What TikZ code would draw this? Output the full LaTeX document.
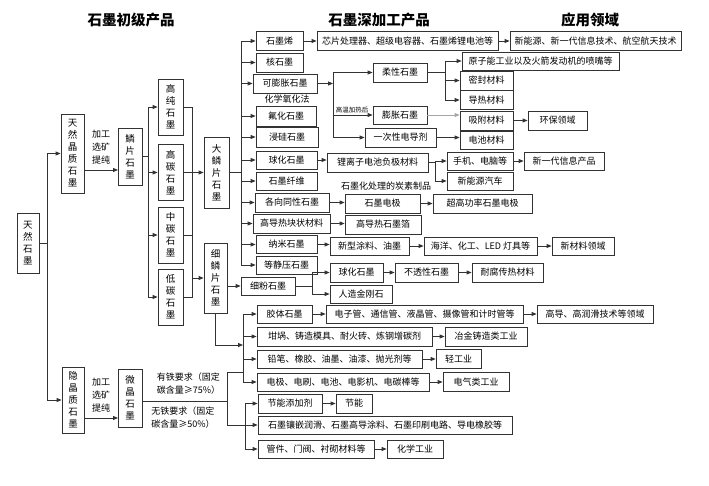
\documentclass[tikz,border=0pt]{standalone}
\usepackage{fontspec}
\setmainfont{Noto Sans CJK SC}
\usetikzlibrary{arrows.meta}

\tikzset{
  box/.style={draw=black!80, line width=0.8pt, inner sep=1pt, minimum height=19pt,
    font=\fontsize{9}{11}\selectfont},
  vbox/.style={box, align=center, font=\fontsize{9.5}{12}\selectfont},
  conn/.style={draw=black!80, line width=0.8pt},
  arr/.style={-{Triangle[length=5pt,width=4pt]}},
  title/.style={font=\fontsize{14.5}{16}\selectfont\bfseries},
  note/.style={font=\fontsize{9}{13}\selectfont, align=left},
}

\begin{document}
\begin{tikzpicture}[x=1pt, y=-1pt]
    \useasboundingbox (0,0) rectangle (709,486);

    % titles
    \node[title] (t1) at (131,20) {石墨初级产品};
    \node[title] (t2) at (379,20) {石墨深加工产品};
    \node[title] (t3) at (590,20) {应用领域};

    % primary products
    \node[vbox, minimum width=22, minimum height=60] (tr) at (28,243) {天\\然\\石\\墨};
    \node[vbox, minimum width=23, minimum height=79] (tjz) at (72.5,153.5) {天\\然\\晶\\质\\石\\墨};
    \node[vbox, minimum width=22, minimum height=66] (yjz) at (73,400) {隐\\晶\\质\\石\\墨};
    \node[vbox, minimum width=24, minimum height=57] (lp) at (130,156.5) {鳞\\片\\石\\墨};
    \node[vbox, minimum width=24, minimum height=58] (wj) at (130,398) {微\\晶\\石\\墨};
    \node[vbox, minimum width=25, minimum height=56] (gc) at (170.5,107) {高\\纯\\石\\墨};
    \node[vbox, minimum width=25, minimum height=56] (gt) at (170.5,172.5) {高\\碳\\石\\墨};
    \node[vbox, minimum width=25, minimum height=56] (zt) at (170.5,235) {中\\碳\\石\\墨};
    \node[vbox, minimum width=25, minimum height=56] (dt) at (170.5,297) {低\\碳\\石\\墨};
    \node[vbox, minimum width=25, minimum height=71] (dlp) at (216.5,172.5) {大\\鳞\\片\\石\\墨};
    \node[vbox, minimum width=23, minimum height=70] (xlp) at (215.5,278) {细\\鳞\\片\\石\\墨};

    \coordinate (trj) at (47,243);
    \coordinate (lpin) at (118,170);
    \coordinate (wjin) at (118,418);
    \coordinate (lpj) at (148,156.5);
    \coordinate (mj) at (192,172.5);

    \node[note, align=center, anchor=south] (jg1) at (101,168) {加工\\选矿\\提纯};
    \node[note, align=center, anchor=south] (jg2) at (101,416) {加工\\选矿\\提纯};

    \draw[conn] (tr.east) -- (trj);
    \draw[conn,arr] (trj) |- (tjz.west);
    \draw[conn,arr] (trj) |- (yjz.west);
    \draw[conn,arr] (tjz.east |- lpin) -- (lpin);
    \draw[conn,arr] (yjz.east |- wjin) -- (wjin);
    \draw[conn] (lp.east) -- (lpj);
    \foreach \n in {gc,gt,zt,dt}
        \draw[conn,arr] (lpj) |- (\n.west);
    \foreach \n in {gc,gt,zt,dt}
        \draw[conn] (\n.east) -| (mj);
    \draw[conn,arr] (mj) -- (dlp.west);
    \draw[conn,arr] (mj |- xlp.west) -- (xlp.west);

    % deep processing, large flakes
    \node[box, minimum width=47] (sml) at (279.5,41) {石墨烯};
    \node[box, minimum width=47] (hsm) at (279.5,62.5) {核石墨};
    \node[box, minimum width=64] (kpz) at (285,83.5) {可膨胀石墨};
    \node[box, minimum width=60, minimum height=20] (fh) at (286,116) {氟化石墨};
    \node[box, minimum width=62, minimum height=20] (jg) at (287,137) {浸硅石墨};
    \node[box, minimum width=61, minimum height=18] (qh) at (286.5,160) {球化石墨};
    \node[box, minimum width=61, minimum height=18] (xw) at (286.5,181) {石墨纤维};
    \node[box, minimum width=74] (gx) at (292,202.5) {各向同性石墨};
    \node[box, minimum width=77] (gdr) at (291.5,223.5) {高导热块状材料};
    \node[box, minimum width=61, minimum height=18] (nm) at (286.5,244.5) {纳米石墨};
    \node[box, minimum width=61, minimum height=18] (djy) at (286.5,265) {等静压石墨};
    \node[note] (hx) at (287,99) {化学氧化法};

    \coordinate (dlpj) at (241,172.5);
    \draw[conn] (dlp.east) -- (dlpj);
    \foreach \n in {sml,hsm,kpz,fh,jg,qh,xw,gx,gdr,nm,djy}
        \draw[conn,arr] (dlpj) |- (\n.west);

    \node[box, minimum width=181] (xp) at (407.5,41) {芯片处理器、超级电容器、石墨烯锂电池等};
    \node[box, minimum width=171] (xny) at (595.5,41) {新能源、新一代信息技术、航空航天技术};
    \draw[conn,arr] (sml.east) -- (xp.west);
    \draw[conn,arr] (xp.east) -- (xny.west);

    % expandable graphite
    \node[box, minimum width=54] (rx) at (400,72.5) {柔性石墨};
    \node[box, minimum width=54, minimum height=18] (pz) at (400,115) {膨胀石墨};
    \node[box, minimum width=71] (ycx) at (400.5,137.5) {一次性电导剂};
    \node[font=\fontsize{6.5}{7}\selectfont, anchor=south, inner sep=1pt] (gw) at (352,114) {高温加热后};
    \coordinate (kj) at (333,83.5);
    \draw[conn,arr] (kpz.east) -- (kj);
    \foreach \n in {rx,pz,ycx}
        \draw[conn,arr] (kj) |- (\n.west);

    \node[box, minimum width=157, minimum height=18] (yzn) at (540.5,61) {原子能工业以及火箭发动机的喷嘴等};
    \node[box, minimum width=53] (mf) at (486.5,80.5) {密封材料};
    \node[box, minimum width=53] (drc) at (486.5,100) {导热材料};
    \node[box, minimum width=53] (xf) at (486.5,120.5) {吸附材料};
    \node[box, minimum width=53, minimum height=18] (dc) at (486.5,140.5) {电池材料};
    \node[box, minimum width=59] (hb) at (557.5,120.5) {环保领域};
    \coordinate (rj) at (445,72.5);
    \draw[conn] (rx.east) -- (rj);
    \foreach \n in {yzn,mf,drc}
        \draw[conn,arr] (rj) |- (\n.west);
    \draw[conn,arr,draw=black!35] (pz.east) -- (pz.east -| xf.west);
    \draw[conn,arr] (ycx.east) -- (ycx.east -| dc.west);
    \draw[conn,arr] (xf.east) -- (hb.west);

    % spherical graphite
    \node[box, minimum width=101] (lz) at (377.5,162.5) {锂离子电池负极材料};
    \node[box, minimum width=66, minimum height=18] (sj) at (480,161) {手机、电脑等};
    \node[box, minimum width=66, minimum height=18] (xnyqc) at (480,181) {新能源汽车};
    \node[box, minimum width=80, minimum height=18] (xyd) at (564,161) {新一代信息产品};
    \coordinate (lj) at (435,162.5);
    \draw[conn,arr] (qh.east) -- (qh.east -| lz.west);
    \draw[conn] (lz.east) -- (lj);
    \foreach \n in {sj,xnyqc}
        \draw[conn,arr] (lj) |- (\n.west);
    \draw[conn,arr] (sj.east) -- (xyd.west);

    % electrodes, foil, nano
    \node[note] (tsz) at (386,186) {石墨化处理的炭素制品};
    \node[box, minimum width=75] (sdj) at (382.5,203.5) {石墨电极};
    \node[box, minimum width=99] (cgg) at (482.5,203.5) {超高功率石墨电极};
    \node[box, minimum width=76] (gdrb) at (383,224.5) {高导热石墨箔};
    \node[box, minimum width=79, minimum height=18] (xt) at (369.5,246) {新型涂料、油墨};
    \node[box, minimum width=113, minimum height=18] (hy) at (480.5,246) {海洋、化工、LED 灯具等};
    \node[box, minimum width=62, minimum height=18] (xcl) at (583,246) {新材料领域};
    \draw[conn,arr] (gx.east) -- (gx.east -| sdj.west);
    \draw[conn,arr] (sdj.east) -- (cgg.west);
    \draw[conn,arr] (gdr.east) -- (gdr.east -| gdrb.west);
    \draw[conn,arr] (nm.east) -- (nm.east -| xt.west);
    \draw[conn,arr] (xt.east) -- (hy.west);
    \draw[conn,arr] (hy.east) -- (xcl.west);

    % fine flakes
    \node[box, minimum width=54, minimum height=18] (xf2) at (268,286) {细粉石墨};
    \node[box, minimum width=53] (qh2) at (356.5,272.5) {球化石墨};
    \node[box, minimum width=62, minimum height=18] (rz) at (361,294) {人造金刚石};
    \node[box, minimum width=63] (btx) at (426.5,272.5) {不透性石墨};
    \node[box, minimum width=71] (nf) at (507.5,272.5) {耐腐传热材料};
    \coordinate (fj) at (312,286);
    \draw[conn,arr] (xlp.east |- xf2.west) -- (xf2.west);
    \draw[conn] (xf2.east) -- (fj);
    \foreach \n in {qh2,rz}
        \draw[conn,arr] (fj) |- (\n.west);
    \draw[conn,arr] (qh2.east) -- (btx.west);
    \draw[conn,arr] (btx.east) -- (nf.west);

    \node[box, minimum width=55, minimum height=18] (jt) at (284.5,314) {胶体石墨};
    \node[box, minimum width=197, minimum height=18] (dzg) at (424.5,314) {电子管、通信管、液晶管、摄像管和计时管等};
    \node[box, minimum width=116, minimum height=18] (gd) at (595,314) {高导、高润滑技术等领域};
    \node[box, minimum width=175] (gg) at (344.5,336.5) {坩埚、铸造模具、耐火砖、炼钢增碳剂};
    \node[box, minimum width=82] (yj) at (486,336.5) {冶金铸造类工业};
    \node[box, minimum width=165, minimum height=18] (qb) at (339.5,359) {铅笔、橡胶、油墨、油漆、抛光剂等};
    \node[box, minimum width=45] (qgy) at (458.5,359) {轻工业};
    \node[box, minimum width=172, minimum height=18] (dj) at (343,382) {电极、电刷、电池、电影机、电碳棒等};
    \node[box, minimum width=66] (dq) at (476,382) {电气类工业};
    \coordinate (ub) at (243,345);
    \draw[conn,arr] (xlp.south) |- (ub);
    \foreach \n in {jt,gg,qb,dj}
        \draw[conn,arr] (ub) |- (\n.west);
    \draw[conn,arr] (jt.east) -- (dzg.west);
    \draw[conn,arr] (dzg.east) -- (gd.west);
    \draw[conn,arr] (gg.east) -- (yj.west);
    \draw[conn,arr] (qb.east) -- (qgy.west);
    \draw[conn,arr] (dj.east) -- (dq.west);

    % microcrystalline
    \node[note] (yt1) at (188.5,384) {有铁要求（固定\\碳含量≥75\%）};
    \node[note] (wt1) at (183,417.5) {无铁要求（固定\\碳含量≥50\%）};
    \node[box, minimum width=64] (jn) at (290,403.5) {节能添加剂};
    \node[box, minimum width=36] (jn2) at (354,403.5) {节能};
    \node[box, minimum width=254, minimum height=18] (xq) at (385,425) {石墨镶嵌润滑、石墨高导涂料、石墨印刷电路、导电橡胶等};
    \node[box, minimum width=116, minimum height=18] (gj) at (316,449) {管件、门阀、衬砌材料等};
    \node[box, minimum width=56, minimum height=18] (hx2) at (415,449) {化学工业};
    \coordinate (wjj) at (227,401);
    \coordinate (yt) at (227,372);
    \coordinate (ytb) at (243,372);
    \coordinate (wt) at (227,425);
    \coordinate (lb) at (245,425);
    \draw[conn] (wj.east |- wjj) -- (wjj) -- (yt) -- (ytb);
    \draw[conn] (wjj) -- (wt) -- (lb);
    \draw[conn,arr] (lb) -- (xq.west);
    \foreach \n in {jn,gj}
        \draw[conn,arr] (lb) |- (\n.west);
    \draw[conn,arr] (jn.east) -- (jn2.west);
    \draw[conn,arr] (gj.east) -- (hx2.west);
\end{tikzpicture}
\end{document}
